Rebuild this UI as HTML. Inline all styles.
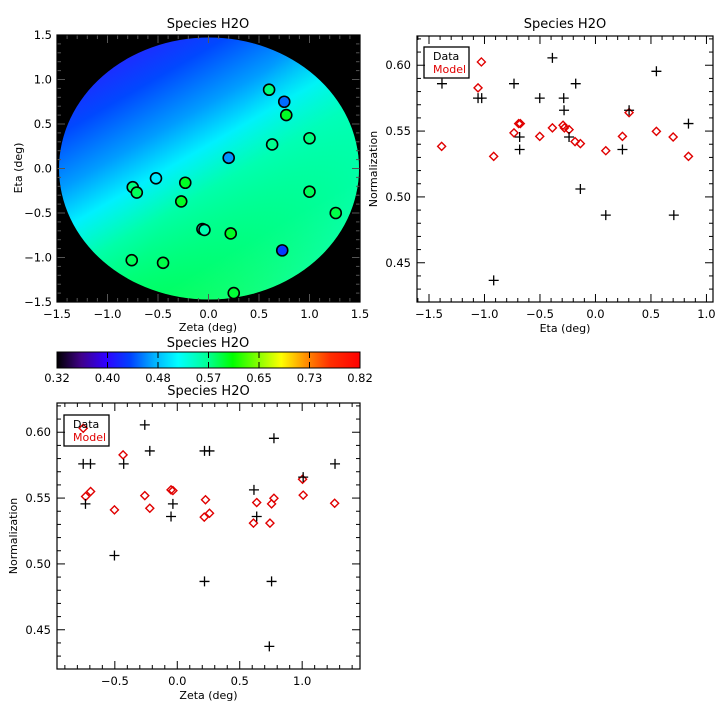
<!DOCTYPE html>
<html><head><meta charset="utf-8"><style>
html,body{margin:0;padding:0;background:#fff;}
svg{display:block;font-family:"DejaVu Sans","Liberation Sans",sans-serif;}
</style></head><body>
<svg id="fig" width="720" height="720" viewBox="0 0 720 720" xmlns="http://www.w3.org/2000/svg">
<defs>
<linearGradient id="mapGrad" gradientUnits="userSpaceOnUse" x1="90" y1="40" x2="240" y2="300">
<stop offset="0" stop-color="#3a10ff"/>
<stop offset="0.22" stop-color="#0048ff"/>
<stop offset="0.38" stop-color="#009cff"/>
<stop offset="0.5" stop-color="#00f0ff"/>
<stop offset="0.63" stop-color="#00ffa8"/>
<stop offset="0.85" stop-color="#00ff50"/>
<stop offset="1" stop-color="#20ff20"/>
</linearGradient>
<linearGradient id="mapOver" gradientUnits="userSpaceOnUse" x1="180" y1="200" x2="330" y2="300">
<stop offset="0" stop-color="#00ffd0" stop-opacity="0"/>
<stop offset="1" stop-color="#00ffe0" stop-opacity="0.8"/>
</linearGradient>
<linearGradient id="cbGrad" x1="0" y1="0" x2="1" y2="0">
<stop offset="0" stop-color="#000000"/>
<stop offset="0.08" stop-color="#40008a"/>
<stop offset="0.16" stop-color="#3000ff"/>
<stop offset="0.24" stop-color="#0040ff"/>
<stop offset="0.32" stop-color="#00b0ff"/>
<stop offset="0.4" stop-color="#00ffff"/>
<stop offset="0.5" stop-color="#00ff90"/>
<stop offset="0.58" stop-color="#00ff00"/>
<stop offset="0.66" stop-color="#80ff00"/>
<stop offset="0.74" stop-color="#ffff00"/>
<stop offset="0.82" stop-color="#ff9000"/>
<stop offset="0.9" stop-color="#ff3000"/>
<stop offset="1" stop-color="#ff0000"/>
</linearGradient>
<clipPath id="mapClip"><rect x="57" y="35" width="303" height="267"/></clipPath>
</defs>
</svg>
<script>
// ---- data ----
const mapZeta = [0.60,0.75,0.77,1.00,0.63,0.20,-0.52,-0.75,-0.71,-0.23,-0.27,1.00,1.26,-0.06,-0.04,0.22,0.73,-0.76,-0.45,0.25];
const mapEta  = [0.885,0.75,0.60,0.34,0.27,0.12,-0.11,-0.21,-0.27,-0.16,-0.37,-0.26,-0.50,-0.68,-0.69,-0.73,-0.92,-1.03,-1.06,-1.40];
const mapVal  = [0.575,0.455,0.60,0.575,0.57,0.47,0.51,0.575,0.585,0.60,0.60,0.585,0.59,0.545,0.555,0.60,0.437,0.585,0.59,0.595];

const etaData   = [-1.383,-1.058,-1.025,-0.734,-0.683,-0.683,-0.917,-0.388,-0.502,-0.286,-0.283,-0.238,-0.178,-0.136,0.093,0.243,0.303,0.549,0.838,0.706];
const etaDataV  = [0.586,0.575,0.575,0.586,0.5455,0.536,0.4366,0.6056,0.575,0.575,0.5658,0.5455,0.586,0.506,0.4862,0.536,0.5658,0.5954,0.5557,0.4862];
const etaModel  = [-1.386,-1.058,-1.028,-0.917,-0.734,-0.692,-0.677,-0.502,-0.388,-0.292,-0.28,-0.238,-0.184,-0.136,0.093,0.243,0.303,0.549,0.70,0.838];
const etaModelV = [0.5384,0.5828,0.6025,0.5308,0.5486,0.5557,0.5557,0.546,0.5524,0.5544,0.5524,0.5511,0.542,0.5405,0.5351,0.546,0.564,0.5498,0.5455,0.5308];

const zetaData   = [-0.753,-0.695,-0.735,-0.429,-0.26,-0.22,-0.503,-0.05,-0.035,0.218,0.258,0.218,0.614,0.636,0.774,0.755,0.737,1.008,1.263];
const zetaDataV  = [0.576,0.576,0.5456,0.576,0.6056,0.5858,0.5064,0.536,0.5456,0.5858,0.5858,0.4867,0.5562,0.536,0.5954,0.4867,0.4374,0.5659,0.576];
const zetaModel  = [-0.753,-0.734,-0.694,-0.503,-0.434,-0.26,-0.22,-0.05,-0.035,0.226,0.216,0.258,0.61,0.636,0.742,0.755,0.774,1.003,1.008,1.26];
const zetaModelV = [0.603,0.5512,0.555,0.541,0.5828,0.5519,0.5423,0.5562,0.5557,0.5487,0.5355,0.5385,0.531,0.5466,0.531,0.5456,0.5499,0.5643,0.5522,0.5461];

const cbLabels = ["0.32","0.40","0.48","0.57","0.65","0.73","0.82"];
const normTicks = ["0.45","0.50","0.55","0.60"];

const svg = document.getElementById('fig');
const NS = 'http://www.w3.org/2000/svg';
function mk(tag, attrs, parent){ const e=document.createElementNS(NS,tag); for(const k in attrs) e.setAttribute(k,attrs[k]); (parent||svg).appendChild(e); return e; }
function txt(x,y,s,size,anchor,fill,parent){ const t=mk('text',{x:x,y:y,'font-size':size,'text-anchor':anchor||'middle',fill:fill||'#000'},parent); t.textContent=s; return t; }

const cmStops=[[0.32,[0,0,0]],[0.36,[64,0,138]],[0.40,[48,0,255]],[0.44,[0,64,255]],[0.48,[0,176,255]],[0.52,[0,255,255]],[0.57,[0,255,144]],[0.61,[0,255,0]],[0.65,[128,255,0]],[0.69,[255,255,0]],[0.73,[255,144,0]],[0.77,[255,48,0]],[0.82,[255,0,0]]];
function cmap(v){ for(let i=0;i<cmStops.length-1;i++){ const a=cmStops[i],b=cmStops[i+1]; if(v<=b[0]){ const t=Math.max(0,(v-a[0])/(b[0]-a[0])); return 'rgb('+a[1].map((c,j)=>Math.round(c+(b[1][j]-c)*t)).join(',')+')'; } } return 'rgb(255,0,0)'; }

function axes(box, xr, yr, xmaj, xmin, ymaj, ymin, name, tickColor){
  const sx=v=>box.x+(v-xr[0])/(xr[1]-xr[0])*box.w;
  const sy=v=>box.y+box.h-(v-yr[0])/(yr[1]-yr[0])*box.h;
  const g=mk('g',{});
  
  
  const c=tickColor||'#000';
  for(let v=Math.ceil(xr[0]/xmin-1e-6)*xmin; v<=xr[1]+1e-9; v+=xmin){
    const major=Math.abs(v/xmaj-Math.round(v/xmaj))<1e-6; const L=major?8:4; const X=sx(v);
    mk('line',{x1:X,y1:box.y+box.h,x2:X,y2:box.y+box.h-L,stroke:c,'stroke-width':1},g);
    mk('line',{x1:X,y1:box.y,x2:X,y2:box.y+L,stroke:c,'stroke-width':1},g);
  }
  for(let v=Math.ceil(yr[0]/ymin-1e-6)*ymin; v<=yr[1]+1e-9; v+=ymin){
    const major=Math.abs(v/ymaj-Math.round(v/ymaj))<1e-6; const L=major?8:4; const Y=sy(v);
    mk('line',{x1:box.x,y1:Y,x2:box.x+L,y2:Y,stroke:c,'stroke-width':1},g);
    mk('line',{x1:box.x+box.w,y1:Y,x2:box.x+box.w-L,y2:Y,stroke:c,'stroke-width':1},g);
  }
  mk('rect',{x:box.x,y:box.y,width:box.w,height:box.h,fill:'none',stroke:'#000','stroke-width':1.2},g);
  return {sx,sy};
}
function fmt(v){ const s=v.toFixed(1); return (v<0?'\u2212'+s.slice(1):s); }

// ---- Map panel ----
const mbox={x:57,y:35,w:303,h:267};
mk('rect',{x:57,y:35,width:303,height:267,fill:'#000'});
const mxr=[-1.5,1.5], myr=[-1.5,1.5];
const msx=v=>mbox.x+(v-mxr[0])/3*mbox.w, msy=v=>mbox.y+mbox.h-(v-myr[0])/3*mbox.h;
const disk=mk('ellipse',{cx:209,cy:168.5,rx:150,ry:131,fill:'url(#mapGrad)','clip-path':'url(#mapClip)'});


mk('ellipse',{cx:209,cy:168.5,rx:150,ry:131,fill:'url(#mapOver)','clip-path':'url(#mapClip)'});
axes(mbox,mxr,myr,0.5,0.1,0.5,0.1,'map','#555');
for(let i=0;i<mapZeta.length;i++){
  const c=mk('circle',{cx:msx(mapZeta[i]),cy:msy(mapEta[i]),r:5.5,fill:cmap(mapVal[i]),stroke:'#000','stroke-width':1.6});
  
  
}
txt(208,28,'Species H2O',13);
[-1.5,-1,-0.5,0,0.5,1,1.5].forEach(v=>{ txt(msx(v),318,fmt(v),11.5); });
[-1.5,-1,-0.5,0,0.5,1,1.5].forEach(v=>{ txt(52,msy(v)+4,fmt(v),11.5,'end'); });
txt(208,331,'Zeta (deg)',11);
const ml=txt(22,168,'Eta (deg)',11); ml.setAttribute('transform','rotate(-90 22 168)');

// ---- Colorbar ----
txt(208,347,'Species H2O',13);
const cb=mk('rect',{x:57,y:352,width:303,height:16,fill:'url(#cbGrad)',stroke:'#000','stroke-width':1});


cbLabels.forEach((s,i)=>{ const X=57+i*303/6; mk('line',{x1:X,y1:352,x2:X,y2:358,stroke:'#000'}); mk('line',{x1:X,y1:368,x2:X,y2:362,stroke:'#000'}); txt(X,382,s,11.5); });

function scatter(box,xr,yr,xs,ys,xm,ym,title,xlabel,name,xticks,legend){
  const {sx,sy}=axes(box,xr,yr,0.5,0.1,0.05,0.01,name);
  txt(box.x+box.w/2,box.y-8,title,13);
  xticks.forEach(v=>txt(sx(v),box.y+box.h+16,fmt(v),11.5));
  normTicks.forEach(s=>txt(box.x-6,sy(parseFloat(s))+4,s,11.5,'end'));
  txt(box.x+box.w/2,box.y+box.h+30,xlabel,11);
  const yl=txt(box.x-40,box.y+box.h/2,'Normalization',11); yl.setAttribute('transform','rotate(-90 '+(box.x-40)+' '+(box.y+box.h/2)+')');
  for(let i=0;i<xm.length;i++){
    const X=sx(xm[i]),Y=sy(ym[i]);
    const d=mk('path',{d:'M'+X+' '+(Y-4)+'L'+(X+4)+' '+Y+'L'+X+' '+(Y+4)+'L'+(X-4)+' '+Y+'Z',fill:'none',stroke:'#e00000','stroke-width':1.4});
    
    
  }
  for(let i=0;i<xs.length;i++){
    const X=sx(xs[i]),Y=sy(ys[i]);
    const p=mk('path',{d:'M'+(X-5)+' '+Y+'H'+(X+5)+'M'+X+' '+(Y-5)+'V'+(Y+5),stroke:'#000','stroke-width':1.3,fill:'none'});
    
    
  }
  const lg=mk('g',{});
  
  
  mk('rect',{x:legend.x,y:legend.y,width:45,height:31,fill:'none',stroke:'#000','stroke-width':1.3},lg);
  txt(legend.x+9,legend.y+13,'Data',11,'start','#000',lg);
  txt(legend.x+9,legend.y+26,'Model',11,'start','#e00000',lg);
}
scatter({x:417,y:36,w:296,h:266},[-1.608,1.059],[0.4202,0.6222],etaData,etaDataV,etaModel,etaModelV,'Species H2O','Eta (deg)','eta-plot',[-1.5,-1,-0.5,0,0.5,1],{x:424,y:47});
scatter({x:57,y:403,w:303,h:266},[-0.963,1.463],[0.4202,0.6222],zetaData,zetaDataV,zetaModel,zetaModelV,'Species H2O','Zeta (deg)','zeta-plot',[-0.5,0,0.5,1],{x:64,y:415});
</script>
</body></html>
